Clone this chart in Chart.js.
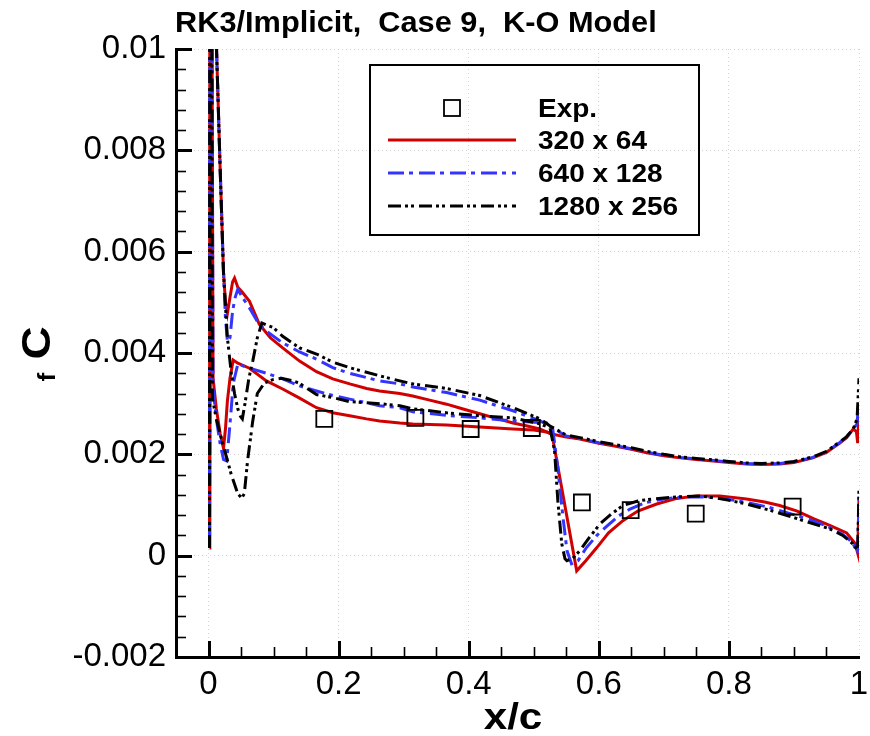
<!DOCTYPE html>
<html>
<head>
<meta charset="utf-8">
<script src="https://cdn.jsdelivr.net/npm/chart.js@4.4.0/dist/chart.umd.min.js"></script>
<style>
  body { margin: 0; background: #fff; }
  #wrap { width: 870px; height: 736px; }
</style>
</head>
<body>
<div id="wrap"><canvas id="cfChart" width="870" height="736"></canvas></div>
<script>
// axis ticks
const xTickValues = [0, 0.2, 0.4, 0.6, 0.8, 1];
const xTickLabels = ['0', '0.2', '0.4', '0.6', '0.8', '1'];
const yTickValues = [-0.002, 0, 0.002, 0.004, 0.006, 0.008, 0.01];
const yTickLabels = ['-0.002', '0', '0.002', '0.004', '0.006', '0.008', '0.01'];

const seriesNames = ['Exp.', '320 x 64', '640 x 128', '1280 x 256'];

// experiment
const xExp = [0.178, 0.318, 0.403, 0.497, 0.574, 0.649, 0.749, 0.898];
const cfExp = [0.0027, 0.00272, 0.0025, 0.00252, 0.00105, 0.0009, 0.00083, 0.00097];

// 320 x 64
const x320Up = [0.0015, 0.003, 0.010, 0.0123, 0.0175, 0.023, 0.026, 0.029, 0.033, 0.037, 0.040, 0.045, 0.052, 0.063, 0.078, 0.095, 0.114, 0.14, 0.166, 0.191, 0.217, 0.243, 0.263, 0.294, 0.314, 0.34, 0.366, 0.39, 0.417, 0.44, 0.468, 0.49, 0.509, 0.528,
  0.55, 0.571, 0.6, 0.622, 0.65, 0.674, 0.7, 0.725, 0.75, 0.776, 0.8, 0.827, 0.85, 0.878, 0.9, 0.929, 0.95, 0.96, 0.97, 0.981, 0.991, 0.996, 0.998, 1.0];
const cf320Up = [0.00015, 0.0118, 0.0118, 0.0100, 0.0078, 0.0056, 0.0050, 0.00478, 0.0051, 0.0054, 0.00548, 0.0053, 0.0052, 0.00502, 0.00457, 0.0043, 0.0041, 0.00384, 0.00363, 0.00349, 0.00339, 0.0033, 0.00325, 0.0032, 0.00315, 0.00307, 0.00299, 0.0029, 0.0028, 0.00272, 0.00262, 0.00256, 0.0025, 0.0024,
  0.00234, 0.0023, 0.00222, 0.00217, 0.0021, 0.00203, 0.00197, 0.00193, 0.0019, 0.00187, 0.00184, 0.00181, 0.0018, 0.00181, 0.00184, 0.00193, 0.00204, 0.00213, 0.00222, 0.00233, 0.0025, 0.00245, 0.00222, 0.0029];
const x320Low = [0.0015, 0.002, 0.005, 0.007, 0.012, 0.018, 0.023, 0.026, 0.029, 0.033, 0.038, 0.045, 0.063, 0.089, 0.114, 0.14, 0.166, 0.191, 0.217, 0.243, 0.263, 0.294, 0.314, 0.366, 0.417, 0.468, 0.5, 0.52, 0.528,
  0.566, 0.58, 0.597, 0.615, 0.637, 0.66, 0.689, 0.72, 0.75, 0.786, 0.827, 0.855, 0.878, 0.905, 0.93, 0.955, 0.981, 0.994, 0.998, 1.0];
const cf320Low = [0.00015, 0.0118, 0.0118, 0.0035, 0.0029, 0.0024, 0.00212, 0.0025, 0.00305, 0.0035, 0.00386, 0.0038, 0.0037, 0.00345, 0.00329, 0.00311, 0.00292, 0.00282, 0.00276, 0.0027, 0.00266, 0.00262, 0.0026, 0.00258, 0.00254, 0.0025, 0.00248, 0.00244, 0.0024,
  -0.0003, -0.0001, 0.00016, 0.00045, 0.00069, 0.00088, 0.00102, 0.00113, 0.00118, 0.00118, 0.00112, 0.00106, 0.00099, 0.00088, 0.00073, 0.0006, 0.00045, 0.00024, 0.00005, 0.0011];

// 640 x 128
const x640Up = [0.0015, 0.003, 0.010, 0.0123, 0.0175, 0.023, 0.026, 0.029, 0.033, 0.037, 0.041, 0.045, 0.052, 0.063, 0.076, 0.089, 0.114, 0.14, 0.166, 0.191, 0.217, 0.263, 0.294, 0.314, 0.366, 0.417, 0.468, 0.51, 0.529,
  0.55, 0.571, 0.6, 0.622, 0.65, 0.674, 0.7, 0.725, 0.75, 0.776, 0.8, 0.827, 0.85, 0.878, 0.9, 0.929, 0.95, 0.96, 0.97, 0.981, 0.991, 0.997, 1.0];
const cf640Up = [0.00015, 0.0118, 0.0118, 0.0100, 0.0078, 0.0056, 0.0047, 0.00423, 0.0043, 0.00483, 0.0051, 0.00526, 0.0051, 0.00489, 0.0046, 0.00443, 0.0042, 0.00402, 0.00388, 0.00371, 0.0036, 0.00345, 0.00339, 0.00333, 0.00322, 0.00307, 0.00286, 0.00266, 0.00252,
  0.00236, 0.00231, 0.00223, 0.00218, 0.00211, 0.00204, 0.00198, 0.00194, 0.00191, 0.00188, 0.00185, 0.00182, 0.00181, 0.00182, 0.00185, 0.00194, 0.00205, 0.00214, 0.00223, 0.00234, 0.0025, 0.0026, 0.0031];
const x640Low = [0.0015, 0.002, 0.005, 0.007, 0.012, 0.018, 0.023, 0.028, 0.033, 0.038, 0.045, 0.052, 0.063, 0.089, 0.114, 0.14, 0.166, 0.191, 0.217, 0.263, 0.294, 0.314, 0.366, 0.417, 0.468, 0.52, 0.529,
  0.537, 0.545, 0.551, 0.558, 0.568, 0.581, 0.597, 0.612, 0.63, 0.648, 0.67, 0.699, 0.73, 0.766, 0.8, 0.827, 0.86, 0.889, 0.92, 0.95, 0.975, 0.99, 0.998, 1.0];
const cf640Low = [0.00015, 0.0118, 0.0118, 0.0033, 0.0027, 0.0022, 0.0019, 0.00187, 0.0026, 0.0034, 0.00378, 0.00375, 0.0037, 0.0036, 0.00349, 0.00335, 0.00325, 0.00316, 0.00309, 0.00296, 0.00292, 0.00284, 0.00277, 0.00272, 0.00266, 0.00262, 0.00252,
  0.00173, 0.00075, 0.0001, -0.00016, -0.0001, 0.00016, 0.0004, 0.00058, 0.00078, 0.00092, 0.00104, 0.00112, 0.00116, 0.00116, 0.00111, 0.00105, 0.00096, 0.00085, 0.00073, 0.00059, 0.00042, 0.00026, 0.00005, 0.0012];

// 1280 x 256
const x1280Up = [0.0015, 0.003, 0.010, 0.0123, 0.0175, 0.023, 0.029, 0.035, 0.040, 0.045, 0.049, 0.052, 0.056, 0.062, 0.068, 0.075, 0.082, 0.09, 0.1, 0.114, 0.14, 0.166, 0.191, 0.217, 0.263, 0.294, 0.314, 0.366, 0.417, 0.468, 0.51, 0.525,
  0.55, 0.571, 0.6, 0.622, 0.65, 0.674, 0.7, 0.725, 0.75, 0.776, 0.8, 0.827, 0.85, 0.878, 0.9, 0.929, 0.95, 0.96, 0.97, 0.981, 0.991, 0.997, 1.0];
const cf1280Up = [0.00015, 0.0118, 0.0118, 0.0100, 0.0078, 0.0056, 0.0043, 0.0036, 0.0032, 0.0029, 0.00275, 0.0027, 0.003, 0.0035, 0.00384, 0.0043, 0.00459, 0.00455, 0.0045, 0.00433, 0.0041, 0.00398, 0.00382, 0.00371, 0.00355, 0.00345, 0.00339, 0.0033, 0.00316, 0.00292, 0.0027, 0.00256,
  0.00238, 0.00233, 0.00225, 0.0022, 0.00213, 0.00206, 0.002, 0.00195, 0.00192, 0.00189, 0.00186, 0.00183, 0.00182, 0.00183, 0.00186, 0.00195, 0.00206, 0.00215, 0.00224, 0.00235, 0.0025, 0.0027, 0.0035];
const x1280Low = [0.0015, 0.002, 0.005, 0.006, 0.012, 0.018, 0.025, 0.035, 0.045, 0.051, 0.055, 0.06, 0.068, 0.075, 0.086, 0.1, 0.112, 0.13, 0.14, 0.166, 0.191, 0.217, 0.263, 0.294, 0.314, 0.366, 0.417, 0.468, 0.51, 0.525,
  0.532, 0.537, 0.543, 0.548, 0.551, 0.56, 0.571, 0.585, 0.602, 0.62, 0.637, 0.66, 0.683, 0.72, 0.755, 0.79, 0.827, 0.865, 0.905, 0.93, 0.955, 0.975, 0.99, 0.998, 1.0];
const cf1280Low = [0.00015, 0.0118, 0.0118, 0.0031, 0.0027, 0.0024, 0.00207, 0.0016, 0.00122, 0.00114, 0.00122, 0.00187, 0.00266, 0.0032, 0.00341, 0.00348, 0.0035, 0.00345, 0.0034, 0.00318, 0.00312, 0.00304, 0.003, 0.00296, 0.0029, 0.00282, 0.00276, 0.00272, 0.0026, 0.00252,
  0.00207, 0.00108, 0.00024, -0.00006, -0.0001, -0.00005, 0.0001, 0.00035, 0.00063, 0.00083, 0.00099, 0.00108, 0.00112, 0.00116, 0.00118, 0.00112, 0.00102, 0.00089, 0.00073, 0.00063, 0.00053, 0.0004, 0.00024, 0.0001, 0.00134];

const RED = '#d10000';
const BLUE = '#3434ff';
const BLACK = '#000000';
const dashBlue = [16, 5, 4, 6];
const dashBlack = [13, 4, 3, 3, 3, 5];
const FONT = '"Liberation Sans", Arial, Helvetica, sans-serif';

function pts(xs, ys) {
    return xs.map((x, i) => ({ x: x, y: ys[i] }));
}

function lineSet(label, xs, ys, color, dash, order) {
    return {
        label: label,
        data: pts(xs, ys),
        borderColor: color,
        backgroundColor: color,
        borderWidth: 3,
        borderDash: dash,
        pointRadius: 0,
        fill: false,
        tension: 0,
        order: order
    };
}

function drawText(ctx, str, x, y, font, sx, align) {
    ctx.save();
    ctx.font = font;
    ctx.fillStyle = '#000';
    ctx.textAlign = align || 'left';
    ctx.textBaseline = 'alphabetic';
    ctx.translate(x, y);
    ctx.scale(sx, 1);
    ctx.fillText(str, 0, 0);
    ctx.restore();
}

// inward ticks, title, legend and axis titles
const decoPlugin = {
    id: 'deco',
    afterDraw(chart) {
        const { ctx, chartArea: a, scales: { x, y } } = chart;
        ctx.save();
        ctx.strokeStyle = '#000';
        ctx.setLineDash([]);
        // x ticks
        for (let k = 1; k < 21; k++) {
            const v = -0.05 + k * 0.05;
            const px = Math.round(x.getPixelForValue(v)) + 0.5;
            const major = k % 4 === 1;
            ctx.lineWidth = major ? 3 : 1.6;
            ctx.beginPath();
            ctx.moveTo(px, a.bottom);
            ctx.lineTo(px, a.bottom - (major ? 16 : 10));
            ctx.stroke();
        }
        // y ticks
        for (let k = 0; k <= 30; k++) {
            const v = -0.002 + k * 0.0004;
            const py = Math.round(y.getPixelForValue(v)) + 0.5;
            const major = k % 5 === 0;
            ctx.lineWidth = major ? 3 : 1.6;
            ctx.beginPath();
            ctx.moveTo(a.left, py);
            ctx.lineTo(a.left + (major ? 16 : 10), py);
            ctx.stroke();
        }
        ctx.restore();

        // title
        drawText(ctx, 'RK3/Implicit,  Case 9,  K-O Model', 175, 32, 'bold 29px ' + FONT, 1.06, 'left');

        // axis titles
        drawText(ctx, 'x/c', 513, 729, 'bold 37px ' + FONT, 1.14, 'center');
        ctx.save();
        ctx.translate(50, 343);
        ctx.rotate(-Math.PI / 2);
        drawText(ctx, 'C', 0, 0, 'bold 40px ' + FONT, 1.15, 'center');
        drawText(ctx, 'f', -34, 5, 'bold 24px ' + FONT, 1.1, 'center');
        ctx.restore();

        // legend
        ctx.save();
        ctx.lineWidth = 2;
        ctx.strokeStyle = '#000';
        ctx.strokeRect(370, 65, 329, 170);
        ctx.lineWidth = 1.8;
        ctx.strokeRect(444, 100, 16, 16);
        const rows = [
            { color: RED, dash: [], y: 140 },
            { color: BLUE, dash: dashBlue, y: 173 },
            { color: BLACK, dash: dashBlack, y: 206 }
        ];
        rows.forEach(r => {
            ctx.lineWidth = 3;
            ctx.strokeStyle = r.color;
            ctx.setLineDash(r.dash);
            ctx.beginPath();
            ctx.moveTo(388, r.y);
            ctx.lineTo(516, r.y);
            ctx.stroke();
        });
        ctx.restore();
        const textYs = [108, 140, 173, 206];
        seriesNames.forEach((n, i) => {
            drawText(ctx, n, 538, textYs[i] + 9, 'bold 25px ' + FONT, 1.12, 'left');
        });
    }
};

const ctx = document.getElementById('cfChart').getContext('2d');
const cfChart = new Chart(ctx, {
    type: 'line',
    data: {
        datasets: [
            {
                label: seriesNames[0],
                data: pts(xExp, cfExp),
                showLine: false,
                pointStyle: 'rect',
                pointRadius: 11.3,
                pointBorderWidth: 1.8,
                pointBorderColor: '#000',
                pointBackgroundColor: 'rgba(0,0,0,0)',
                order: 0
            },
            lineSet(seriesNames[3], x1280Up, cf1280Up, BLACK, dashBlack, 1),
            lineSet(seriesNames[3], x1280Low, cf1280Low, BLACK, dashBlack, 1),
            lineSet(seriesNames[2], x640Up, cf640Up, BLUE, dashBlue, 2),
            lineSet(seriesNames[2], x640Low, cf640Low, BLUE, dashBlue, 2),
            lineSet(seriesNames[1], x320Up, cf320Up, RED, [], 3),
            lineSet(seriesNames[1], x320Low, cf320Low, RED, [], 3)
        ]
    },
    options: {
        responsive: false,
        animation: false,
        layout: { autoPadding: false, padding: { top: 49, right: 11, left: 0, bottom: 0 } },
        plugins: {
            legend: { display: false },
            tooltip: { enabled: false },
            title: { display: false }
        },
        scales: {
            x: {
                type: 'linear',
                min: -0.05,
                max: 1.0,
                afterFit(s) { s.height = 79; s.paddingLeft = 0; s.paddingRight = 0; },
                afterBuildTicks(s) { s.ticks = xTickValues.map(v => ({ value: v })); },
                ticks: {
                    callback: (v, i) => xTickLabels[i],
                    font: { family: FONT, size: 33 },
                    color: '#000',
                    padding: 8,
                    maxRotation: 0,
                    autoSkip: false
                },
                grid: { color: '#d4d4d4', lineWidth: 1, drawTicks: false },
                border: { color: '#000', width: 3, dash: [1, 3] }
            },
            y: {
                type: 'linear',
                min: -0.002,
                max: 0.01,
                afterFit(s) { s.width = 176; s.paddingTop = 0; s.paddingBottom = 0; },
                afterBuildTicks(s) { s.ticks = yTickValues.map(v => ({ value: v })); },
                ticks: {
                    callback: (v, i) => yTickLabels[i],
                    font: { family: FONT, size: 33 },
                    color: '#000',
                    padding: 10,
                    autoSkip: false
                },
                grid: { color: '#d4d4d4', lineWidth: 1, drawTicks: false },
                border: { color: '#000', width: 3, dash: [1, 3] }
            }
        }
    },
    plugins: [decoPlugin]
});
</script>
</body>
</html>
